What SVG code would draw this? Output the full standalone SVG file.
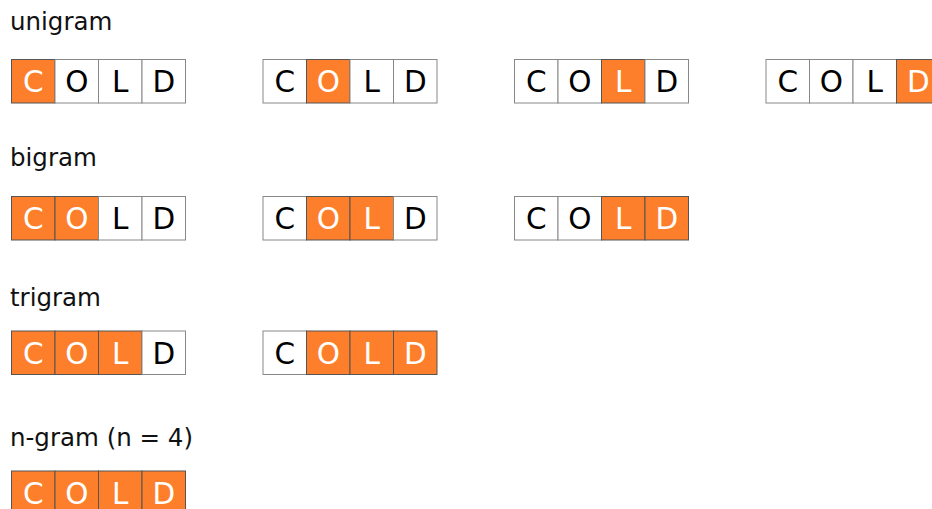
<svg xmlns="http://www.w3.org/2000/svg" width="932" height="509" viewBox="0 0 932 509">
<defs>
<style>
.lbl{font-family:"DejaVu Sans",sans-serif;font-size:24.5px;fill:#111}
.c{stroke:#888;stroke-width:1;fill:#fff}
.c.on{fill:#fe7f2b;stroke:#555}
.t{font-family:"DejaVu Sans",sans-serif;font-size:29.5px;text-anchor:middle;fill:#000}
.t.on{fill:#fff}
</style>
</defs>
<rect width="932" height="509" fill="#fff"/>
<g id="labels">
<text class="lbl" x="10" y="30">unigram</text>
<text class="lbl" x="10" y="166">bigram</text>
<text class="lbl" x="10" y="306">trigram</text>
<text class="lbl" x="10" y="446">n-gram (n = 4)</text>
</g>
<g id="unigram">
<g id="u1" transform="translate(11.5,59.5)"><rect class="c on" x="0" y="0" width="43.5" height="43.5"/><rect class="c" x="43.5" y="0" width="43.5" height="43.5"/><rect class="c" x="87" y="0" width="43.5" height="43.5"/><rect class="c" x="130.5" y="0" width="43.5" height="43.5"/><text class="t on" x="21.75" y="32.5">C</text><text class="t" x="65.25" y="32.5">O</text><text class="t" x="108.75" y="32.5">L</text><text class="t" x="152.25" y="32.5">D</text></g>
<g id="u2" transform="translate(263,59.5)"><rect class="c" x="0" y="0" width="43.5" height="43.5"/><rect class="c on" x="43.5" y="0" width="43.5" height="43.5"/><rect class="c" x="87" y="0" width="43.5" height="43.5"/><rect class="c" x="130.5" y="0" width="43.5" height="43.5"/><text class="t" x="21.75" y="32.5">C</text><text class="t on" x="65.25" y="32.5">O</text><text class="t" x="108.75" y="32.5">L</text><text class="t" x="152.25" y="32.5">D</text></g>
<g id="u3" transform="translate(514.5,59.5)"><rect class="c" x="0" y="0" width="43.5" height="43.5"/><rect class="c" x="43.5" y="0" width="43.5" height="43.5"/><rect class="c on" x="87" y="0" width="43.5" height="43.5"/><rect class="c" x="130.5" y="0" width="43.5" height="43.5"/><text class="t" x="21.75" y="32.5">C</text><text class="t" x="65.25" y="32.5">O</text><text class="t on" x="108.75" y="32.5">L</text><text class="t" x="152.25" y="32.5">D</text></g>
<g id="u4" transform="translate(766,59.5)"><rect class="c" x="0" y="0" width="43.5" height="43.5"/><rect class="c" x="43.5" y="0" width="43.5" height="43.5"/><rect class="c" x="87" y="0" width="43.5" height="43.5"/><rect class="c on" x="130.5" y="0" width="43.5" height="43.5"/><text class="t" x="21.75" y="32.5">C</text><text class="t" x="65.25" y="32.5">O</text><text class="t" x="108.75" y="32.5">L</text><text class="t on" x="152.25" y="32.5">D</text></g>
</g>
<g id="bigram">
<g id="b1" transform="translate(11.5,196.5)"><rect class="c on" x="0" y="0" width="43.5" height="43.5"/><rect class="c on" x="43.5" y="0" width="43.5" height="43.5"/><rect class="c" x="87" y="0" width="43.5" height="43.5"/><rect class="c" x="130.5" y="0" width="43.5" height="43.5"/><text class="t on" x="21.75" y="32.5">C</text><text class="t on" x="65.25" y="32.5">O</text><text class="t" x="108.75" y="32.5">L</text><text class="t" x="152.25" y="32.5">D</text></g>
<g id="b2" transform="translate(263,196.5)"><rect class="c" x="0" y="0" width="43.5" height="43.5"/><rect class="c on" x="43.5" y="0" width="43.5" height="43.5"/><rect class="c on" x="87" y="0" width="43.5" height="43.5"/><rect class="c" x="130.5" y="0" width="43.5" height="43.5"/><text class="t" x="21.75" y="32.5">C</text><text class="t on" x="65.25" y="32.5">O</text><text class="t on" x="108.75" y="32.5">L</text><text class="t" x="152.25" y="32.5">D</text></g>
<g id="b3" transform="translate(514.5,196.5)"><rect class="c" x="0" y="0" width="43.5" height="43.5"/><rect class="c" x="43.5" y="0" width="43.5" height="43.5"/><rect class="c on" x="87" y="0" width="43.5" height="43.5"/><rect class="c on" x="130.5" y="0" width="43.5" height="43.5"/><text class="t" x="21.75" y="32.5">C</text><text class="t" x="65.25" y="32.5">O</text><text class="t on" x="108.75" y="32.5">L</text><text class="t on" x="152.25" y="32.5">D</text></g>
</g>
<g id="trigram">
<g id="t1" transform="translate(11.5,331)"><rect class="c on" x="0" y="0" width="43.5" height="43.5"/><rect class="c on" x="43.5" y="0" width="43.5" height="43.5"/><rect class="c on" x="87" y="0" width="43.5" height="43.5"/><rect class="c" x="130.5" y="0" width="43.5" height="43.5"/><text class="t on" x="21.75" y="32.5">C</text><text class="t on" x="65.25" y="32.5">O</text><text class="t on" x="108.75" y="32.5">L</text><text class="t" x="152.25" y="32.5">D</text></g>
<g id="t2" transform="translate(263,331)"><rect class="c" x="0" y="0" width="43.5" height="43.5"/><rect class="c on" x="43.5" y="0" width="43.5" height="43.5"/><rect class="c on" x="87" y="0" width="43.5" height="43.5"/><rect class="c on" x="130.5" y="0" width="43.5" height="43.5"/><text class="t" x="21.75" y="32.5">C</text><text class="t on" x="65.25" y="32.5">O</text><text class="t on" x="108.75" y="32.5">L</text><text class="t on" x="152.25" y="32.5">D</text></g>
</g>
<g id="ngram">
<g id="n1" transform="translate(11.5,471)"><rect class="c on" x="0" y="0" width="43.5" height="43.5"/><rect class="c on" x="43.5" y="0" width="43.5" height="43.5"/><rect class="c on" x="87" y="0" width="43.5" height="43.5"/><rect class="c on" x="130.5" y="0" width="43.5" height="43.5"/><text class="t on" x="21.75" y="32.5">C</text><text class="t on" x="65.25" y="32.5">O</text><text class="t on" x="108.75" y="32.5">L</text><text class="t on" x="152.25" y="32.5">D</text></g>
</g>
<g id="connectors"/>
</svg>
